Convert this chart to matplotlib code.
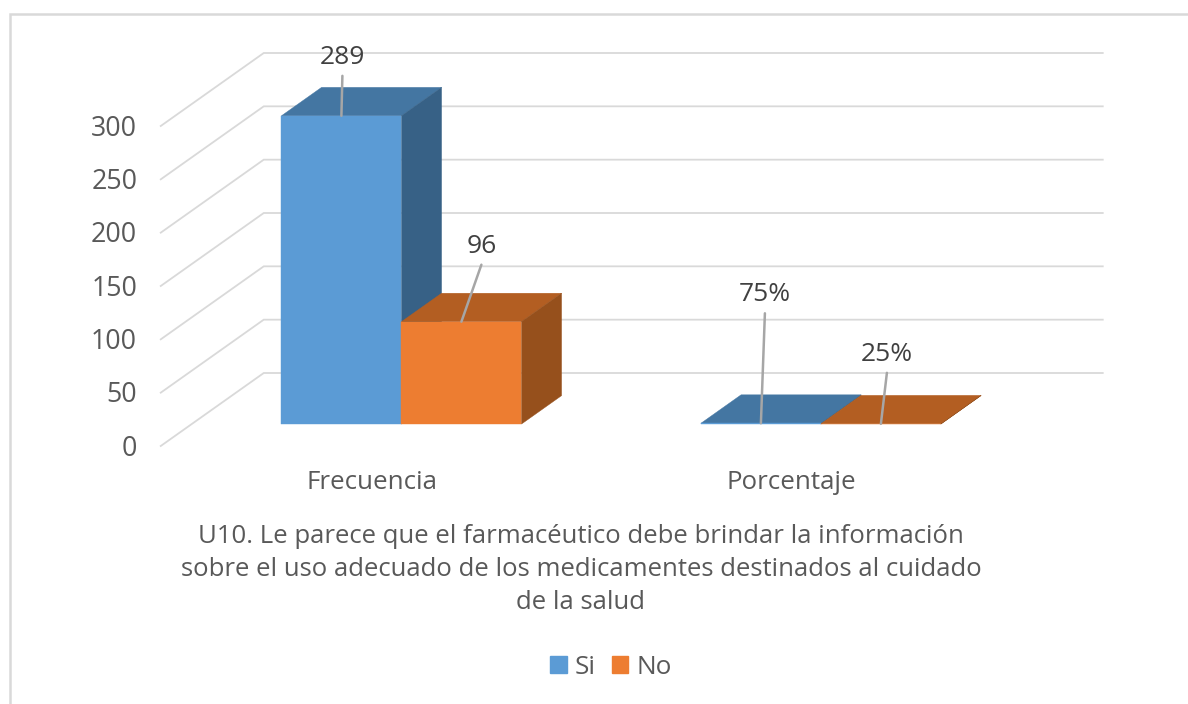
import matplotlib
matplotlib.use("Agg")
import matplotlib.pyplot as plt
from matplotlib.lines import Line2D
from matplotlib.patches import Patch, Polygon

categories = ["Frecuencia", "Porcentaje"]
series_names = ["Si", "No"]
si_values = [289, 0.75]
no_values = [96, 0.25]
si_labels = ["289", "75%"]
no_labels = ["96", "25%"]
y_ticks = [0, 50, 100, 150, 200, 250, 300]
x_title = ("U10. Le parece que el farmacéutico debe brindar la información\n"
           "sobre el uso adecuado de los medicamentes destinados al cuidado\n"
           "de la salud")

W, H = 1188, 704
PX_CAT = 419.5
PX_VAL = 320 / 300
ORIGIN_X, ORIGIN_Y = 370.5, 446
DEPTH_X, DEPTH_Y = 103, 73
BAR_W = 120 / PX_CAT
BAR_D0, BAR_D1 = 0.30, 0.69

plt.rcParams["font.family"] = ["Open Sans", "DejaVu Sans"]
fig = plt.figure(figsize=(W / 100, H / 100), dpi=100, facecolor="white")
ax = fig.add_axes([0, 0, 1, 1])
ax.set_xlim(-ORIGIN_X / PX_CAT, (W - ORIGIN_X) / PX_CAT)
ax.set_ylim((ORIGIN_Y - H) / PX_VAL, ORIGIN_Y / PX_VAL)
ax.axis("off")

fig.add_artist(Line2D([10 / W, 10 / W, 1], [0, 1 - 13.5 / H, 1 - 13.5 / H],
                      transform=fig.transFigure, color="#D9D9D9", lw=1.8,
                      solid_joinstyle="miter"))


def proj(x, v, d):
    return (x + d * DEPTH_X / PX_CAT, v + d * DEPTH_Y / PX_VAL)


GRID = "#D9D9D9"
for t in y_ticks:
    xs, ys = zip(proj(-0.5, t, 0), proj(-0.5, t, 1), proj(1.5, t, 1))
    ax.plot(xs, ys, color=GRID, lw=1.3, zorder=1, solid_joinstyle="miter")
    ax.annotate(str(t), xy=proj(-0.5, t, 0), xytext=(-17, -2),
                textcoords="offset points", ha="right", va="center",
                color="#595959", fontsize=19.3)


def bar3d(x0, val, front, top, side):
    x1 = x0 + BAR_W
    ax.add_patch(Polygon([proj(x0, val, BAR_D0), proj(x1, val, BAR_D0),
                          proj(x1, val, BAR_D1), proj(x0, val, BAR_D1)],
                         fc=top, ec=top, lw=0.3, zorder=3))
    ax.add_patch(Polygon([proj(x1, 0, BAR_D0), proj(x1, val, BAR_D0),
                          proj(x1, val, BAR_D1), proj(x1, 0, BAR_D1)],
                         fc=side, ec=side, lw=0.3, zorder=3))
    ax.add_patch(Polygon([proj(x0, 0, BAR_D0), proj(x1, 0, BAR_D0),
                          proj(x1, val, BAR_D0), proj(x0, val, BAR_D0)],
                         fc=front, ec=front, lw=0.3, zorder=3))


SI = ("#5B9BD5", "#4476A2", "#376186")
NO = ("#ED7D31", "#B35E22", "#96501C")
for i in range(len(categories)):
    bar3d(i - BAR_W, si_values[i], *SI)
    bar3d(i, no_values[i], *NO)

# leader end offsets from each bar's front top edge, in pixels: (series, category)
offsets = {(0, 0): (1, 40), (1, 0): (20, 57), (0, 1): (4, 110), (1, 1): (6, 51)}
for c, (vals, labs) in enumerate(((si_values, si_labels), (no_values, no_labels))):
    for i in range(len(categories)):
        x = i - BAR_W + BAR_W * (c + 0.5)
        dx, dy = offsets[(c, i)]
        ax.annotate("", xy=proj(x, vals[i], BAR_D0),
                    xytext=(dx * .72, dy * .72), textcoords="offset points",
                    arrowprops=dict(arrowstyle="-", color="#A6A6A6", lw=1.8,
                                    shrinkA=0, shrinkB=0), zorder=5)
        ax.annotate(labs[i], xy=proj(x, vals[i], BAR_D0),
                    xytext=(dx * .72, (dy + 18.5) * .72), textcoords="offset points",
                    ha="center", va="center", color="#404040", fontsize=19,
                    zorder=6)

for i, name in enumerate(categories):
    ax.annotate(name, xy=(i, 0), xycoords="data", xytext=(1.2, -26.5),
                textcoords="offset points", ha="center", va="center",
                color="#595959", fontsize=18.6)

fig.text(581 / W, 1 - 569.5 / H, x_title, ha="center", va="center",
         color="#595959", fontsize=18.5, linespacing=1.42)

handles = [Patch(fc=SI[0], ec=SI[0]), Patch(fc=NO[0], ec=NO[0])]
fig.legend(handles, series_names, loc="center", bbox_to_anchor=(611 / W, 1 - 667 / H),
           ncol=2, frameon=False, fontsize=18.8, labelcolor="#595959",
           handlelength=0.62, handleheight=0.62, handletextpad=0.3,
           columnspacing=0.65, borderpad=0)

fig.savefig("out.png", dpi=100)
